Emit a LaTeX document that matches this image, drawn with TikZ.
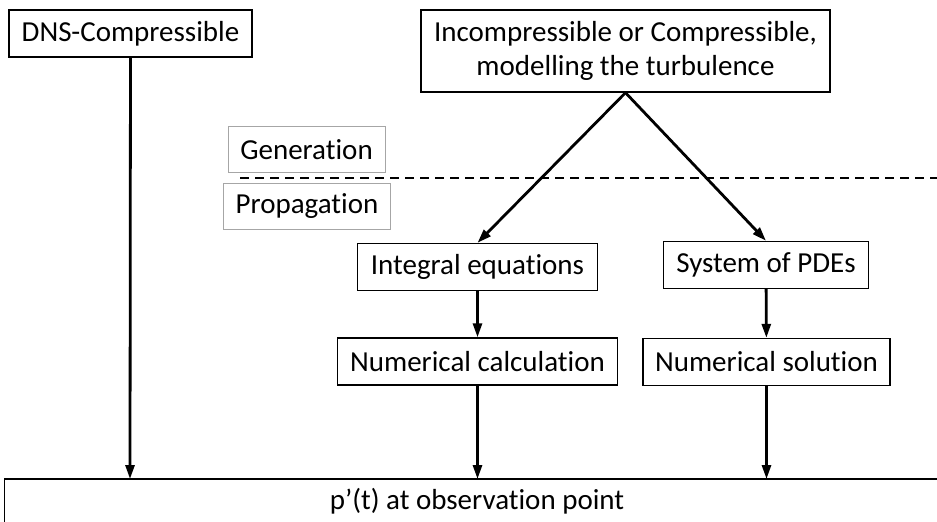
\documentclass[tikz,border=0pt]{standalone}
\usepackage{fontspec}
\setmainfont{Carlito}[Ligatures=NoCommon]
\usetikzlibrary{arrows.meta}
\begin{document}
\begin{tikzpicture}[x=1pt,y=-1pt,
    box/.style={draw, line width=1.4pt, inner sep=0pt, minimum height=47pt,
        font=\fontsize{29}{34}\selectfont},
    gbox/.style={draw=black!35, line width=0.9pt, inner sep=0pt, minimum height=46pt,
        font=\fontsize{29}{34}\selectfont},
    arr/.style={-{Triangle[length=14pt,width=9pt]}, line width=2.8pt}]
    \useasboundingbox (0,0) rectangle (937,522);
    \clip (0,0) rectangle (937,522);

    % generation / propagation split
    \node[gbox, minimum width=157pt] (gen) at (306.5,149.5) {Generation};
    \node[gbox, minimum width=167pt] (prop) at (307,206) {Propagation};
    \coordinate (dl) at (240,178);
    \coordinate (dr) at (940,178);
    \draw[line width=1.8pt, dash pattern=on 9pt off 6pt] (dl) -- (dr);

    % boxes
    \node[box, minimum width=243pt] (dns) at (130.5,33.5) {DNS-Compressible};
    \node[box, minimum width=409pt, minimum height=82pt, align=center] (model) at (625.5,51)
        {Incompressible or Compressible,\\modelling the turbulence};
    \node[box, minimum width=240pt] (integ) at (477.5,267) {Integral equations};
    \node[box, minimum width=280pt] (calc) at (477.5,361.5) {Numerical calculation};
    \node[box, minimum width=205pt] (pdes) at (766,265) {System of PDEs};
    \node[box, minimum width=247pt] (solve) at (766.5,362) {Numerical solution};
    \node[draw, line width=1.4pt, minimum width=945pt, minimum height=50pt, inner sep=0pt] (obs) at (477,504) {};
    \node[font=\fontsize{29}{34}\selectfont] (obstext) at (477,501) {p’(t) at observation point};

    % connectors
    \coordinate (dnsend) at (130,479);
    \coordinate (calcend) at (477.5,479);
    \coordinate (solveend) at (766.5,479);
    \draw[arr] (dns) -- (dnsend);
    \draw[arr] (model.south) -- (integ.north);
    \draw[arr] (model.south) -- (pdes.north);
    \draw[arr] (integ) -- (calc);
    \draw[arr] (pdes) -- (solve);
    \draw[arr] (calc) -- (calcend);
    \draw[arr] (solve) -- (solveend);
\end{tikzpicture}
\end{document}
